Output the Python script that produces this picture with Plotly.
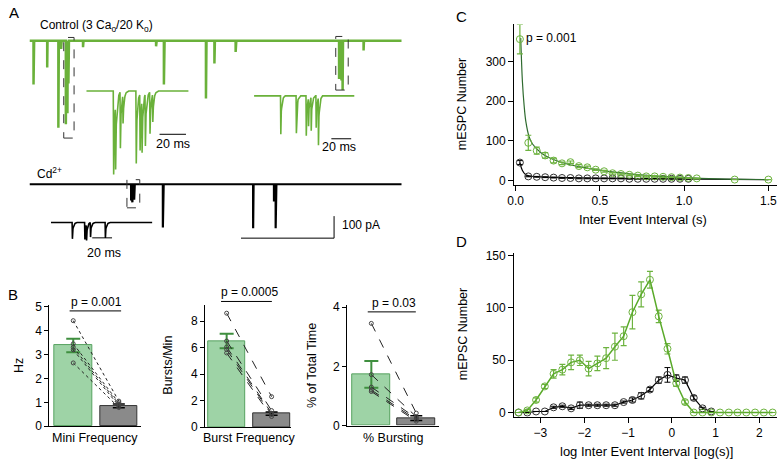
import numpy as np
import plotly.graph_objects as go

W, H = 777, 466
FONT = "Liberation Sans, Arial, sans-serif"
G_TRACE = "#6ab13a"
G_MARK = "#6db33f"
G_LINE = "#5aaa2a"
G_FIT = "#2f6b2f"
BAR_G = "#9ed3a6"
BAR_G_EDGE = "#57a260"
BAR_G_ERR = "#3f8f3f"
BAR_K = "#8a8a8a"
BAR_K_EDGE = "#333333"
TICK_SIZE = 12
TITLE_SIZE = 12.5

# ---------------- Panel A data (times, amplitudes) ----------------
CTRL_T = [0.043, 0.19, 0.31, 0.34, 0.575, 1.36, 1.444, 1.896, 1.987, 2.215, 3.59]   # s
CTRL_A = [199, 121, 395, 37, 29, 25, 199, 262, 103, 51, 44]                          # pA
BURST1_T0 = 0.37
BURST1_MS = [20.4, 21.9, 25.5, 27.5, 37.5, 40.4, 41.9, 44.4, 47.9, 50.0]
BURST1_A = [379, 300, 258, 125, 329, 257, 242, 235, 192, 125]
BURST2_T0 = 3.30
BURST2_MS = [26.7, 42.4, 52.4, 54.7, 57.4, 62.4, 64.7]
BURST2_A = [174, 170, 181, 125, 152, 145, 214]
CD_T = [1.433, 2.403, 2.627, 2.645]
CD_A = [196, 200, 78, 200]
CDB_T0 = 1.07
CDB_MS = [21.4, 34.0, 35.7, 39.7, 54.7]
CDB_A = [74, 77, 74, 66, 70]
REC_LEN = 4.0
INS1_LEN, INS2_LEN, INS3_LEN = 77.4, 101.4, 102.4   # ms

# ---------------- Panel B data ----------------
MINI_MEAN = [3.38, 0.85]; MINI_ERR = [0.28, 0.08]
MINI_CTRL = [4.42, 3.45, 3.30, 3.20, 2.65]; MINI_CD = [1.05, 0.98, 0.92, 0.85, 0.78]
BURST_MEAN = [6.5, 1.02]; BURST_ERR = [0.55, 0.12]
BURST_CTRL = [8.6, 6.5, 6.05, 5.85, 5.6]; BURST_CD = [2.3, 1.25, 1.05, 0.95, 0.8]
PCT_MEAN = [1.73, 0.25]; PCT_ERR = [0.45, 0.08]
PCT_CTRL = [3.45, 1.72, 1.3, 1.2, 1.15]; PCT_CD = [0.42, 0.3, 0.25, 0.2, 0.15]
P_LABELS = ["p = 0.001", "p = 0.0005", "p = 0.03"]

# ---------------- Panel C data ----------------
C_X_G = [0.025, 0.075, 0.125, 0.175, 0.225, 0.275, 0.325, 0.375, 0.425, 0.475, 0.525, 0.575,
         0.625, 0.675, 0.725, 0.775, 0.825, 0.875, 0.925, 0.975, 1.025, 1.075, 1.3, 1.5]
C_Y_G = [357, 95, 75, 63, 50, 43, 46, 36, 33, 27, 23, 18, 16, 14, 12, 10, 10, 9, 8, 7, 6, 5, 2, 2]
C_E_G = [37, 19, 9, 7, 6, 3, 3, 4, 3, 2, 2, 2, 2, 2, 2, 2, 2, 2, 1, 1, 1, 1, 0, 0]
C_X_K = [0.025, 0.075, 0.125, 0.175, 0.225, 0.275, 0.325, 0.375, 0.425, 0.475, 0.525, 0.575,
         0.625, 0.675, 0.725, 0.775, 0.825, 0.875, 0.925, 0.975, 1.025]
C_Y_K = [45, 10, 9, 8, 7, 6, 6, 5, 5, 5, 5, 5, 5, 4, 4, 4, 4, 4, 4, 4, 4]
C_E_K = [5, 1, 1, 1, 1, 1, 1, 1, 1, 1, 1, 1, 1, 1, 1, 1, 1, 1, 1, 1, 1]
FIT_X_G = [0.03, 0.04, 0.05, 0.06, 0.08, 0.10, 0.15, 0.20, 0.30, 0.40, 0.50, 0.60, 0.80, 1.00, 1.20, 1.50]
FIT_Y_G = [360, 250, 190, 150, 110, 92, 70, 57, 42, 33, 26, 20, 12, 7, 4, 2]
FIT_X_K = [0.025, 0.04, 0.06, 0.08, 0.15, 0.30, 0.50, 0.80, 1.10, 1.50]
FIT_Y_K = [45, 25, 14, 11, 9, 7, 5, 4, 3, 2]

# ---------------- Panel D data ----------------
D_X = [-3.5, -3.3, -3.1, -2.9, -2.7, -2.5, -2.3, -2.1, -1.9, -1.7, -1.5, -1.3, -1.1, -0.9, -0.7,
       -0.5, -0.3, -0.1, 0.1, 0.3, 0.5, 0.7, 0.9, 1.1, 1.3, 1.5, 1.7, 1.9, 2.1, 2.3]
D_Y_G = [0, 2, 12, 25, 37, 41, 48, 50, 42, 47, 52, 63, 73, 96, 113, 127, 92, 61, 28, 10,
         0, 0, 0, 0, 0, 0, 0, 0, 0, 0]
D_E_G = [0, 1, 2, 2, 4, 5, 7, 5, 7, 7, 10, 13, 9, 16, 12, 8, 6, 5, 3, 2,
         0, 0, 0, 0, 0, 0, 0, 0, 0, 0]
D_X_K = [-3.5, -3.3, -3.1, -2.9, -2.7, -2.5, -2.3, -2.1, -1.9, -1.7, -1.5, -1.3, -1.1, -0.9, -0.7,
         -0.5, -0.3, -0.1, 0.1, 0.3, 0.5, 0.7, 0.9]
D_Y_K = [0, 0, 1, 1, 5, 6, 4, 7, 7, 7, 7, 7, 10, 12, 16, 22, 31, 36, 33, 31, 14, 4, 1]
D_E_K = [0, 0, 0, 0, 1, 1, 1, 3, 1, 1, 1, 1, 1, 2, 3, 2, 3, 7, 3, 3, 2, 1, 0]

# ---------------- helpers ----------------
def xd(p0, p1):
    return [p0 / W, p1 / W]

def yd(top, bot):
    return [1 - bot / H, 1 - top / H]

def xr(p0, p1, ref_px, ref_val, ppu):
    return [ref_val + (p0 - ref_px) / ppu, ref_val + (p1 - ref_px) / ppu]

def yr(top, bot, ref_px, ref_val, ppu):
    return [ref_val - (bot - ref_px) / ppu, ref_val + (ref_px - top) / ppu]

TPL_T = np.array([0.0, 0.3, 0.8, 2.0, 4.0])   # ms, event waveform template
TPL_A = np.array([0.0, 1.0, 0.4, 0.1, 0.0])

def build_trace(times, amps, t_end, scale, n=800):
    grid = np.linspace(0, t_end, n)
    extra = [t + tt * scale for t in times for tt in TPL_T]
    x = np.unique(np.concatenate([grid, np.array(extra)]))
    y = np.zeros_like(x)
    for t, a in zip(times, amps):
        y -= a * np.interp(x - t, TPL_T * scale, TPL_A, left=0, right=0)
    return x, y

fig = go.Figure()

# ---- Panel A traces ----
ctrl_t = CTRL_T + [BURST1_T0 + m / 1000 for m in BURST1_MS] + [BURST2_T0 + m / 1000 for m in BURST2_MS]
ctrl_a = CTRL_A + BURST1_A + BURST2_A
x, y = build_trace(ctrl_t, ctrl_a, REC_LEN, 0.001)
fig.add_trace(go.Scatter(x=x, y=y, mode="lines", line=dict(color=G_TRACE, width=2.5), xaxis="x", yaxis="y"))
x, y = build_trace(BURST1_MS, BURST1_A, INS1_LEN, 1.0, 300)
fig.add_trace(go.Scatter(x=x, y=y, mode="lines", line=dict(color=G_TRACE, width=1.6), xaxis="x2", yaxis="y2"))
x, y = build_trace(BURST2_MS, BURST2_A, INS2_LEN, 1.0, 300)
fig.add_trace(go.Scatter(x=x, y=y, mode="lines", line=dict(color=G_TRACE, width=1.6), xaxis="x3", yaxis="y3"))
cd_t = CD_T + [CDB_T0 + m / 1000 for m in CDB_MS]
cd_a = CD_A + CDB_A
x, y = build_trace(cd_t, cd_a, REC_LEN, 0.001)
fig.add_trace(go.Scatter(x=x, y=y, mode="lines", line=dict(color="black", width=2.2), xaxis="x4", yaxis="y4"))
x, y = build_trace(CDB_MS, CDB_A, INS3_LEN, 1.0, 300)
fig.add_trace(go.Scatter(x=x, y=y, mode="lines", line=dict(color="black", width=1.6), xaxis="x5", yaxis="y5"))

# ---- Panel B ----
def add_bar_panel(n, means, errs, ctrl, cd, dash):
    xa, ya = f"x{n}", f"y{n}"
    fig.add_trace(go.Bar(x=[0], y=[means[0]], width=0.83, xaxis=xa, yaxis=ya,
                         marker=dict(color=BAR_G, line=dict(color=BAR_G_EDGE, width=1)),
                         error_y=dict(type="data", array=[errs[0]], color=BAR_G_ERR, thickness=2, width=7)))
    fig.add_trace(go.Bar(x=[1], y=[means[1]], width=0.83, xaxis=xa, yaxis=ya,
                         marker=dict(color=BAR_K, line=dict(color=BAR_K_EDGE, width=1)),
                         error_y=dict(type="data", array=[errs[1]], color="black", thickness=1.5, width=6)))
    lx, ly = [], []
    for a, b in zip(ctrl, cd):
        lx += [0, 1, None]
        ly += [a, b, None]
    fig.add_trace(go.Scatter(x=lx, y=ly, mode="lines+markers", xaxis=xa, yaxis=ya,
                             line=dict(color="#222", width=1, dash=dash),
                             marker=dict(symbol="circle-open", size=4, color="#444", line=dict(width=1))))

add_bar_panel(6, MINI_MEAN, MINI_ERR, MINI_CTRL, MINI_CD, "dot")
add_bar_panel(7, BURST_MEAN, BURST_ERR, BURST_CTRL, BURST_CD, "dash")
add_bar_panel(8, PCT_MEAN, PCT_ERR, PCT_CTRL, PCT_CD, "dash")

# ---- Panel C ----
fig.add_trace(go.Scatter(x=FIT_X_K, y=FIT_Y_K, mode="lines", line=dict(color="black", width=1.2, shape="spline"),
                         xaxis="x9", yaxis="y9"))
fig.add_trace(go.Scatter(x=C_X_K, y=C_Y_K, mode="markers", xaxis="x9", yaxis="y9",
                         marker=dict(symbol="circle-open", size=7, color="#333", line=dict(width=1)),
                         error_y=dict(type="data", array=C_E_K, color="black", thickness=1, width=3)))
fig.add_trace(go.Scatter(x=FIT_X_G, y=FIT_Y_G, mode="lines", line=dict(color=G_FIT, width=1.2, shape="spline"),
                         xaxis="x9", yaxis="y9"))
fig.add_trace(go.Scatter(x=C_X_G, y=C_Y_G, mode="markers", xaxis="x9", yaxis="y9",
                         marker=dict(symbol="circle-open", size=7, color=G_MARK, line=dict(width=1)),
                         error_y=dict(type="data", array=C_E_G, color=G_MARK, thickness=1.2, width=3)))

# ---- Panel D ----
fig.add_trace(go.Scatter(x=D_X_K, y=D_Y_K, mode="lines+markers", xaxis="x10", yaxis="y10",
                         line=dict(color="black", width=1.2),
                         marker=dict(symbol="circle-open", size=7, color="#333", line=dict(width=1)),
                         error_y=dict(type="data", array=D_E_K, color="black", thickness=1, width=3)))
fig.add_trace(go.Scatter(x=D_X, y=D_Y_G, mode="lines+markers", xaxis="x10", yaxis="y10",
                         line=dict(color=G_LINE, width=1.5),
                         marker=dict(symbol="circle-open", size=7, color=G_MARK, line=dict(width=1)),
                         error_y=dict(type="data", array=D_E_G, color=G_MARK, thickness=1.2, width=3)))

# ---------------- axes ----------------
hidden = dict(visible=False, showgrid=False, zeroline=False, fixedrange=True)
ax_style = dict(showline=True, linecolor="black", linewidth=1, ticks="outside", ticklen=4,
                tickcolor="black", showgrid=False, zeroline=False, ticklabeloverflow="allow",
                tickfont=dict(family=FONT, size=TICK_SIZE, color="black"))

layout = dict(
    width=W, height=H, margin=dict(l=0, r=0, t=0, b=0),
    paper_bgcolor="white", plot_bgcolor="rgba(0,0,0,0)", showlegend=False,
    font=dict(family=FONT, size=12, color="black"), bargap=0,
)
# A axes
layout["xaxis"] = dict(hidden, domain=xd(22.7, 398.3), range=[0, REC_LEN], anchor="y")
layout["yaxis"] = dict(hidden, domain=yd(20, 150), range=yr(20, 150, 36.7, 0, 0.226), anchor="x")
layout["xaxis2"] = dict(hidden, domain=xd(80, 183.3), range=[0, INS1_LEN], anchor="y2")
layout["yaxis2"] = dict(hidden, domain=yd(80, 180), range=yr(80, 180, 88.3, 0, 0.226), anchor="x2")
layout["xaxis3"] = dict(hidden, domain=xd(249.3, 350.7), range=[0, INS2_LEN], anchor="y3")
layout["yaxis3"] = dict(hidden, domain=yd(85, 150), range=yr(85, 150, 93.3, 0, 0.226), anchor="x3")
layout["xaxis4"] = dict(hidden, domain=xd(22.7, 398.3), range=[0, REC_LEN], anchor="y4")
layout["yaxis4"] = dict(hidden, domain=yd(170, 245), range=yr(170, 245, 184, 0, 0.226), anchor="x4")
layout["xaxis5"] = dict(hidden, domain=xd(44.3, 146.7), range=[0, INS3_LEN], anchor="y5")
layout["yaxis5"] = dict(hidden, domain=yd(215, 260), range=yr(215, 260, 223.3, 0, 0.226), anchor="x5")

# B axes
def bx(dom, rng, n):
    return dict(ax_style, domain=dom, range=rng, anchor=f"y{n}", ticks="", showticklabels=False)

layout["xaxis6"] = bx(xd(42.7, 135), xr(42.7, 135, 66.85, 0, 46), 6)
layout["yaxis6"] = dict(ax_style, domain=yd(308, 432.3), range=yr(308, 432.3, 432.3, 0, 24.5), anchor="x6",
                        tickvals=[0, 1, 2, 3, 4, 5])
layout["xaxis7"] = bx(xd(200, 286.7), xr(200, 286.7, 221.65, 0, 45.35), 7)
layout["yaxis7"] = dict(ax_style, domain=yd(308.3, 433.3), range=yr(308.3, 433.3, 433.3, 0, 13.6), anchor="x7",
                        tickvals=[0, 2, 4, 6, 8])
layout["xaxis8"] = bx(xd(343.3, 436), xr(343.3, 436, 367.65, 0, 45.35), 8)
layout["yaxis8"] = dict(ax_style, domain=yd(308.3, 431.7), range=yr(308.3, 431.7, 431.7, 0, 30.4), anchor="x8",
                        tickvals=[0, 2, 4])
# C
layout["xaxis9"] = dict(ax_style, domain=xd(511.7, 777), range=xr(511.7, 777, 513.3, 0, 170), anchor="y9",
                        tickvals=[0, 0.5, 1.0, 1.5], tickformat=".1f", ticklen=5)
layout["yaxis9"] = dict(ax_style, domain=yd(20, 184.3), range=yr(20, 184.3, 180, 0, 0.406), anchor="x9",
                        tickvals=[0, 100, 200, 300], ticklen=5)
# D
layout["xaxis10"] = dict(ax_style, domain=xd(511.7, 777), range=xr(511.7, 777, 670.9, 0, 44.2), anchor="y10",
                         tickvals=[-3, -2, -1, 0, 1, 2], ticklen=5)
layout["yaxis10"] = dict(ax_style, domain=yd(255, 422.7), range=yr(255, 422.7, 418.3, 0, 1.073), anchor="x10",
                         tickvals=[0, 50, 100, 150], ticklen=5)

fig.update_layout(**layout)

# ---------------- shapes ----------------
def seg(xref, yref, x0, y0, x1, y1, color="black", width=1, dash=None):
    line = dict(color=color, width=width)
    if dash:
        line["dash"] = dash
    fig.add_shape(type="line", xref=xref, yref=yref, x0=x0, y0=y0, x1=x1, y1=y1, line=line)

def box(xref, yref, x0, y0, x1, y1):
    fig.add_shape(type="rect", xref=xref, yref=yref, x0=x0, y0=y0, x1=x1, y1=y1,
                  line=dict(color="#333", width=1, dash="dash"))

box("x", "y", 0.368, -442, 0.479, 15)
box("x", "y", 3.291, -224, 3.425, 19.5)
box("x4", "y4", 1.047, -107, 1.185, 20.8)

# scale bars
seg("x2", "y2", 55.4, -196.5, 75.4, -196.5)
seg("x3", "y3", 78, -194.7, 98, -194.7)
seg("x5", "y5", 41.7, -69.5, 61.7, -69.5)
seg("x4", "y4", 2.273, -244.7, 3.273, -244.7)
seg("x4", "y4", 3.273, -244.7, 3.273, -144.7)

# ---------------- annotations ----------------
def txt(x, y, text, xref="paper", yref="paper", size=TITLE_SIZE, xanchor="center", yanchor="middle", angle=0):
    if xref == "paper":
        x = x / W
    if yref == "paper":
        y = 1 - y / H
    fig.add_annotation(x=x, y=y, xref=xref, yref=yref, text=text, showarrow=False,
                       xanchor=xanchor, yanchor=yanchor, textangle=angle,
                       font=dict(family=FONT, size=size, color="black"))

# p-value labels with underlines (placed in pixel rows above each bar panel)
for n, label, (ux0, ux1), py in zip([6, 7, 8], P_LABELS,
                                     [(-0.08, 1.05), (-0.125, 1.006), (-0.08, 0.99)],
                                     [314, 304.3, 315]):
    seg(f"x{n}", "paper", ux0, 1 - py / H, ux1, 1 - py / H)
    txt(0.5, py, label, xref=f"x{n}", yanchor="bottom", size=12)

# panel letters
txt(7, 8, "A", size=15)
txt(6, 297, "B", size=15)
txt(459, 12, "C", size=15)
txt(459, 243, "D", size=15)

# panel A labels
txt(31.7, 21.7, "Control (3 Ca<sub>o</sub>/20 K<sub>o</sub>)", xanchor="left", size=12)
txt(28, 172, "Cd<sup>2+</sup>", xanchor="left", size=12)
txt(65.4, -240.7, "20 ms", xref="x2", yref="y2")
txt(85.7, -233, "20 ms", xref="x3", yref="y3")
txt(53.4, -137, "20 ms", xref="x5", yref="y5")
txt(2.773, -292, "1 s", xref="x4", yref="y4")
txt(3.34, -186, "100 pA", xref="x4", yref="y4", xanchor="left", size=12)

# panel B axis labels
txt(12.7, 370, "Hz", angle=-90)
txt(162.7, 370, "Bursts/Min", angle=-90)
txt(308.3, 370, "% of Total Time", angle=-90)
txt(89, 444.5, "Mini Frequency")
txt(244.3, 444.5, "Burst Frequency")
txt(389.3, 444.5, "% Bursting")

# panel C / D labels
txt(0.05, 360, "p = 0.001", xref="x9", yref="y9", xanchor="left", size=12)
txt(460, 102, "mESPC Number", angle=-90)
txt(641.7, 220, "Inter Event Interval (s)", size=13)
txt(460, 338, "mEPSC Number", angle=-90)
txt(645, 458, "log Inter Event Interval [log(s)]", size=13)

fig.write_html("out.html", post_script="document.body.style.margin='0px';",
               config={"displayModeBar": False})
